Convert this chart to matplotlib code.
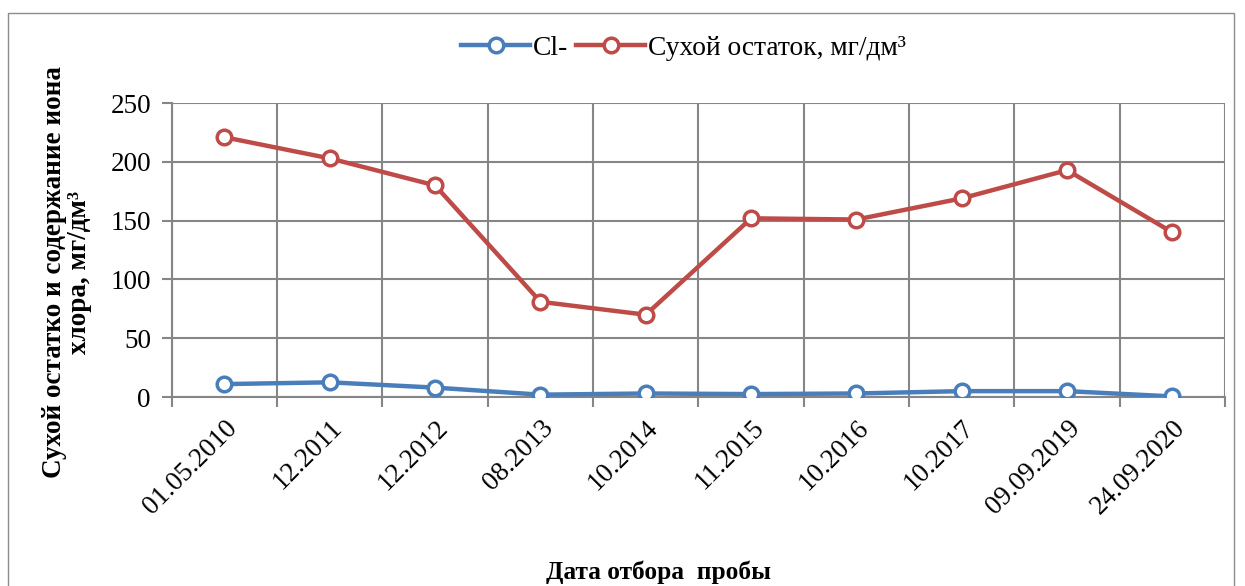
import numpy as np
import matplotlib.pyplot as plt
from matplotlib.patches import Rectangle

plt.rcParams['font.family'] = ['Liberation Serif', 'DejaVu Serif']

# data
dates = ['01.05.2010', '12.2011', '12.2012', '08.2013', '10.2014',
         '11.2015', '10.2016', '10.2017', '09.09.2019', '24.09.2020']
cl = [11, 12.5, 8, 2, 3, 2.5, 3, 5, 5, 0.5]
dry_residue = [221, 203, 180, 81, 70, 152, 151, 169, 193, 140]

fig = plt.figure(figsize=(12.45, 5.86), dpi=100)
ax = fig.add_axes([0.138, 0.3225, 0.846, 0.5015])

# outer chart border
fig.patches.append(Rectangle((8 / 1245, -0.1), 1226 / 1245, 1.1 - 13 / 586,
                             transform=fig.transFigure, fill=False,
                             edgecolor='#8c8c8c', linewidth=1))

x = np.arange(len(dates))
ax.plot(x, cl, color='#4A7EBB', linewidth=3.2, marker='o', markersize=10.5,
        markerfacecolor='white', markeredgewidth=2.5, label='Cl-', zorder=3)
ax.plot(x, dry_residue, color='#BE4B48', linewidth=3.2, marker='o', markersize=10.5,
        markerfacecolor='white', markeredgewidth=2.5,
        label='Сухой остаток, мг/дм³', zorder=3)

ax.set_xlim(-0.5, len(dates) - 0.5)
ax.set_ylim(0, 250)
ax.set_yticks(range(0, 251, 50))
ax.set_xticks(x)
ax.set_xticklabels(dates, rotation=45, ha='right', rotation_mode='anchor')
ax.set_xticks(np.arange(-0.5, len(dates), 1), minor=True)

grid_c = '#868686'
ax.grid(True, which='major', axis='y', color=grid_c, linewidth=1.5)
ax.grid(True, which='minor', axis='x', color=grid_c, linewidth=1.5)
ax.tick_params(axis='x', which='major', length=0, labelsize=19.5, pad=13)
ax.tick_params(axis='x', which='minor', length=7, color=grid_c, width=1.5)
ax.tick_params(axis='y', length=7, color=grid_c, width=1.5, labelsize=19.5, pad=8)
for s in ['top', 'right']:
    ax.spines[s].set_visible(False)
for s in ['left', 'bottom']:
    ax.spines[s].set_color(grid_c)
    ax.spines[s].set_linewidth(1.5)
ax.set_axisbelow(True)

fig.text(67 / 1245, 1 - 272 / 586, 'Сухой остатко и содержание иона\nхлора, мг/дм³',
         rotation=90, ha='center', va='center', fontsize=19.5, fontweight='bold',
         linespacing=1.0)
fig.text(658 / 1245, 1 - 572 / 586, 'Дата отбора  пробы', ha='center', va='center',
         fontsize=18.3, fontweight='bold')

fig.legend(loc='center', bbox_to_anchor=(0.549, 0.918), ncol=2, frameon=False,
           fontsize=19.8, handlelength=2.5, handletextpad=0.1, columnspacing=0.3)

plt.savefig('out.png', dpi=100)
